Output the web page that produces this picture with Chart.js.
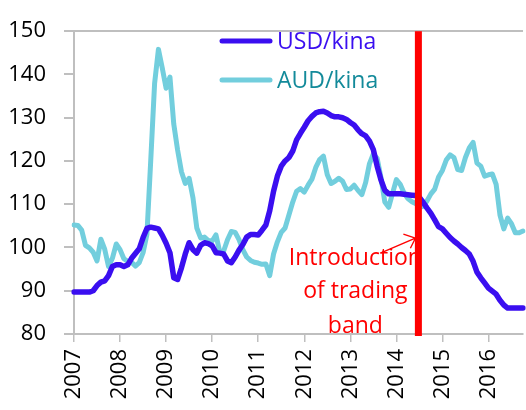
<!DOCTYPE html>
<html>
<head>
<meta charset="utf-8">
<script src="https://cdn.jsdelivr.net/npm/chart.js@4"></script>
<style>
  html, body { margin: 0; padding: 0; background: #fff; }
  .chart-container { position: relative; width: 526px; height: 410px; }
</style>
</head>
<body>
<div class="chart-container"><canvas id="kinaChart"></canvas></div>
<script>
// years on the axis, one label per January
const years = ["2007", "2008", "2009", "2010", "2011", "2012", "2013", "2014", "2015", "2016"];
const nMonths = 118; // Jan 2007 .. Oct 2016

// monthly index values
const usdKina = [
  89.7, 89.7, 89.7, 89.7, 89.7, 90.0, 91.2, 92.0, 92.3, 93.5, 95.6, 96.0,
  96.0, 95.6, 96.0, 97.5, 98.6, 99.7, 102.3, 104.4, 104.7, 104.5, 104.3, 102.8,
  101.0, 98.8, 93.0, 92.6, 95.3, 98.5, 101.1, 99.5, 98.7, 100.5, 101.1, 100.9,
  100.4, 98.8, 98.7, 98.5, 96.9, 96.5, 97.8, 99.4, 100.7, 102.4, 103.0, 103.0,
  102.9, 104.0, 105.2, 108.5, 113.0, 116.5, 118.8, 120.0, 120.8, 122.3, 124.9, 126.4,
  127.8, 129.3, 130.3, 131.1, 131.4, 131.5, 131.1, 130.5, 130.2, 130.2, 130.0, 129.6,
  128.9, 128.3, 127.2, 126.3, 125.8, 124.6, 122.6, 118.8, 115.6, 113.2, 112.4, 112.4,
  112.4, 112.4, 112.3, 112.2, 112.1, 112.0, 111.6, 110.4, 109.1, 107.9, 106.4, 104.8,
  104.3, 103.3, 102.3, 101.5, 100.8, 100.0, 99.3, 98.5, 96.8, 94.3, 93.0, 91.8,
  90.6, 89.9, 89.2, 87.8, 86.7, 86.0, 86.0, 86.0, 86.0, 86.0
];
const audKina = [
  105.2, 105.1, 104.0, 100.5, 99.9, 98.9, 96.9, 101.9, 99.6, 95.6, 97.5, 100.8,
  99.5, 97.4, 96.8, 96.6, 95.7, 96.5, 98.8, 103.0, 120.2, 137.9, 145.8, 141.5,
  136.8, 139.4, 128.5, 122.5, 117.5, 114.8, 116.0, 111.5, 104.5, 102.2, 102.4, 101.6,
  101.5, 102.9, 98.9, 99.2, 101.8, 103.7, 103.5, 101.8, 99.5, 97.8, 97.0, 96.6,
  96.4, 96.1, 96.2, 93.5, 98.5, 101.3, 103.5, 104.5, 107.5, 110.5, 113.0, 113.6,
  112.8, 114.4, 115.8, 118.5, 120.3, 121.1, 116.8, 114.8, 115.3, 116.0, 115.3, 113.4,
  113.5, 114.4, 113.2, 112.2, 115.0, 119.4, 121.6, 120.6, 116.1, 110.5, 109.3, 112.5,
  115.7, 114.6, 112.6, 111.3, 110.6, 110.2, 109.3, 109.5, 110.8, 112.4, 113.5, 116.3,
  117.8, 120.2, 121.4, 120.8, 118.0, 117.8, 120.8, 123.0, 124.3, 119.5, 118.8, 116.5,
  116.8, 117.0, 114.6, 107.5, 104.3, 106.8, 105.5, 103.4, 103.4, 103.8
];
const yTicks = [80, 90, 100, 110, 120, 130, 140, 150];
const bandMonth = 90; // July 2014
const noteLines = ["Introduction", "of trading", "band"];

const labels = [];
for (let i = 0; i < nMonths; i++) {
  labels.push(years[Math.floor(i / 12)] + "-" + String((i % 12) + 1).padStart(2, "0"));
}

const FONT = "'Open Sans', 'Noto Sans', sans-serif";
const AXIS = "#bfbfbf";

// legend, trading band line and note
const extras = {
  id: "extras",
  afterDatasetsDraw(chart) {
    const ctx = chart.ctx;
    const x = chart.scales.x;
    const area = chart.chartArea;
    ctx.save();

    // note text
    const bx = x.getPixelForValue(bandMonth) - 1;
    ctx.fillStyle = "#ff0000";
    ctx.font = "23px " + FONT;
    ctx.textAlign = "center";
    ctx.textBaseline = "alphabetic";
    ctx.fillText(noteLines[0], bx - 63, area.bottom - 69);
    ctx.fillText(noteLines[1], bx - 63, area.bottom - 36);
    ctx.fillText(noteLines[2], bx - 63, area.bottom - 1);

    // arrow
    ctx.strokeStyle = "#ff0000";
    ctx.lineWidth = 1.4;
    ctx.beginPath();
    ctx.moveTo(bx - 38, area.top + 222);
    ctx.lineTo(bx - 3, area.top + 207);
    ctx.moveTo(bx - 15, area.top + 203);
    ctx.lineTo(bx - 3, area.top + 207);
    ctx.lineTo(bx - 8, area.top + 217);
    ctx.stroke();

    // trading band line
    ctx.fillStyle = "#ff0000";
    ctx.fillRect(bx - 3.5, area.top, 7, area.bottom - area.top + 2);

    // legend
    const items = [
      { text: "USD/kina", line: "#3a0ef0", color: "#3a0ef0", y: 41 },
      { text: "AUD/kina", line: "#72cedd", color: "#138a9a", y: 80 },
    ];
    ctx.font = "23px " + FONT;
    ctx.textAlign = "left";
    ctx.textBaseline = "middle";
    ctx.lineCap = "round";
    items.forEach(function (it) {
      ctx.strokeStyle = it.line;
      ctx.lineWidth = 5;
      ctx.beginPath();
      ctx.moveTo(222, it.y);
      ctx.lineTo(270, it.y);
      ctx.stroke();
      ctx.fillStyle = it.color;
      ctx.fillText(it.text, 277, it.y + 1);
    });
    ctx.restore();
  },
};

const ctx = document.getElementById("kinaChart").getContext("2d");
new Chart(ctx, {
  type: "line",
  data: {
    labels,
    datasets: [
      {
        label: "USD/kina",
        data: usdKina,
        borderColor: "#3a0ef0",
        borderWidth: 5.5,
        pointRadius: 0,
        tension: 0,
        borderJoinStyle: "round",
        borderCapStyle: "round",
      },
      {
        label: "AUD/kina",
        data: audKina,
        borderColor: "#72cedd",
        borderWidth: 5,
        pointRadius: 0,
        tension: 0,
        borderJoinStyle: "round",
        borderCapStyle: "round",
      },
    ],
  },
  options: {
    responsive: true,
    maintainAspectRatio: false,
    animation: false,
    layout: { padding: { top: 16, right: 3, left: 0, bottom: 0 } },
    scales: {
      x: {
        offset: false,
        grid: { drawOnChartArea: false, color: AXIS, tickLength: 8, lineWidth: 1.5 },
        border: { color: AXIS, width: 2 },
        ticks: {
          autoSkip: false,
          minRotation: 90,
          maxRotation: 90,
          padding: 7,
          color: "#000",
          font: { family: FONT, size: 22 },
          callback: function (val, index) {
            return index % 12 === 0 ? years[index / 12] : null;
          },
        },
        afterFit: function (scale) { scale.height = 76; },
      },
      y: {
        min: 80,
        max: 150,
        afterBuildTicks: function (scale) {
          scale.ticks = yTicks.map(function (v) { return { value: v }; });
        },
        grid: {
          color: function (c) { return c.tick && c.tick.value === 150 ? AXIS : "rgba(0,0,0,0)"; },
          tickColor: AXIS,
          tickLength: 10,
          lineWidth: 2,
        },
        border: { color: AXIS, width: 2 },
        ticks: {
          padding: 18,
          color: "#000",
          font: { family: FONT, size: 22 },
        },
        afterFit: function (scale) { scale.width = 74; },
      },
    },
    plugins: {
      legend: { display: false },
      tooltip: { enabled: false },
    },
  },
  plugins: [extras],
});
</script>
</body>
</html>
